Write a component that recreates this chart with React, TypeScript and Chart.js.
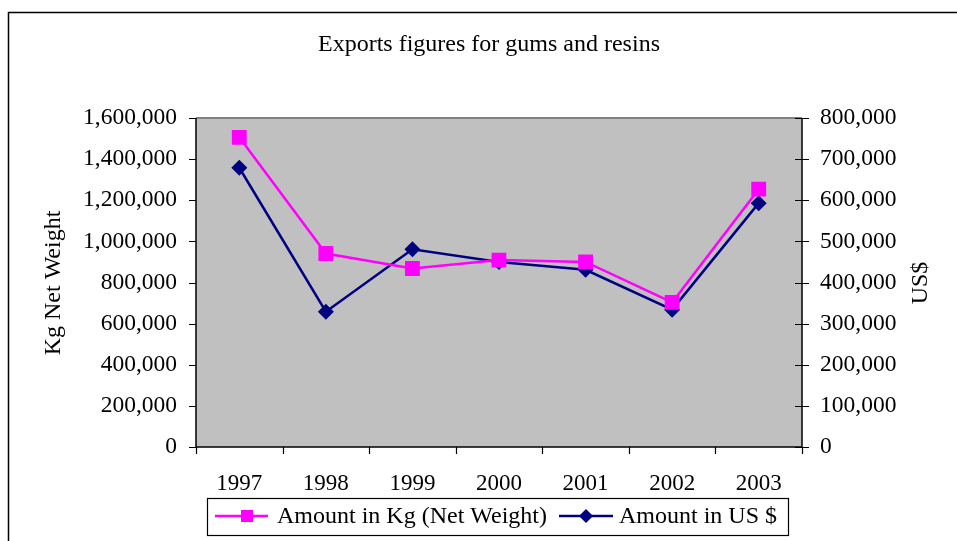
import React, { useEffect, useRef } from "react";
import { Chart, registerables } from "chart.js";

Chart.register(...registerables);

const years = ["1997", "1998", "1999", "2000", "2001", "2002", "2003"];
const kgValues = [1506000, 941000, 868000, 909000, 900000, 703000, 1254000];
const usdValues = [679000, 329000, 481000, 450000, 431000, 334000, 593000];
const leftMax = 1600000;
const leftStep = 200000;
const rightMax = 800000;
const rightStep = 100000;
const chartTitle = "Exports figures for gums and resins";
const leftAxisTitle = "Kg Net Weight";
const rightAxisTitle = "US$";
const seriesNames = ["Amount in Kg (Net Weight)", "Amount in US $"];
const kgColor = "#FF00FF";
const usdColor = "#000080";

const FONT = "'Liberation Serif', 'Times New Roman', serif";

const decorPlugin = {
  id: "decor",
  beforeDraw(chart: any) {
    const { ctx, chartArea, width, height } = chart;
    ctx.save();
    ctx.fillStyle = "#ffffff";
    ctx.fillRect(0, 0, width, height);
    ctx.fillStyle = "#C0C0C0";
    ctx.fillRect(chartArea.left, chartArea.top, chartArea.right - chartArea.left, chartArea.bottom - chartArea.top);
    ctx.restore();
  },
  afterDraw(chart: any) {
    const { ctx, chartArea, width, height } = chart;
    const { left, right, top, bottom } = chartArea;
    const yL = chart.scales.y;
    const yR = chart.scales.y1;
    const x = chart.scales.x;
    ctx.save();

    // plot area top border (gray)
    ctx.strokeStyle = "#808080";
    ctx.lineWidth = 2;
    ctx.beginPath();
    ctx.moveTo(left, top);
    ctx.lineTo(right, top);
    ctx.stroke();

    // axes lines
    ctx.strokeStyle = "#000000";
    ctx.lineWidth = 1.5;
    ctx.beginPath();
    ctx.moveTo(left, top);
    ctx.lineTo(left, bottom);
    ctx.moveTo(right, top);
    ctx.lineTo(right, bottom);
    ctx.moveTo(left, bottom);
    ctx.lineTo(right, bottom);
    ctx.stroke();

    // tick marks
    ctx.lineWidth = 1.2;
    ctx.beginPath();
    yL.ticks.forEach((t: any) => {
      const py = Math.round(yL.getPixelForValue(t.value)) + 0.5;
      ctx.moveTo(left - 7, py);
      ctx.lineTo(left, py);
    });
    yR.ticks.forEach((t: any) => {
      const py = Math.round(yR.getPixelForValue(t.value)) + 0.5;
      ctx.moveTo(right - 7, py);
      ctx.lineTo(right + 7, py);
    });
    const n = years.length;
    for (let i = 0; i <= n; i++) {
      const px = Math.round(x.getPixelForValue(i - 0.5)) + 0.5;
      ctx.moveTo(px, bottom);
      ctx.lineTo(px, bottom + 7);
    }
    ctx.stroke();

    // title
    ctx.fillStyle = "#000000";
    ctx.font = `24px ${FONT}`;
    ctx.textAlign = "center";
    ctx.textBaseline = "middle";
    ctx.fillText(chartTitle, 489, 45);

    // axis titles
    ctx.save();
    ctx.translate(54, 283);
    ctx.rotate(-Math.PI / 2);
    ctx.fillText(leftAxisTitle, 0, 0);
    ctx.restore();
    ctx.save();
    ctx.translate(921, 283);
    ctx.rotate(-Math.PI / 2);
    ctx.fillText(rightAxisTitle, 0, 0);
    ctx.restore();

    // outer frame
    ctx.strokeStyle = "#000000";
    ctx.lineWidth = 1.5;
    ctx.beginPath();
    ctx.moveTo(8.5, height + 2);
    ctx.lineTo(8.5, 12.5);
    ctx.lineTo(width + 2, 12.5);
    ctx.stroke();

    // legend
    const lx = 207.5, ly = 498.5, lw = 581, lh = 37;
    ctx.fillStyle = "#ffffff";
    ctx.fillRect(lx, ly, lw, lh);
    ctx.strokeStyle = "#000000";
    ctx.lineWidth = 1.2;
    ctx.strokeRect(lx, ly, lw, lh);
    const cy = 516;
    // item 1
    ctx.strokeStyle = kgColor;
    ctx.lineWidth = 2.5;
    ctx.beginPath();
    ctx.moveTo(215, cy);
    ctx.lineTo(268, cy);
    ctx.stroke();
    ctx.fillStyle = kgColor;
    ctx.fillRect(241, cy - 6, 12, 12);
    // item 2
    ctx.strokeStyle = usdColor;
    ctx.beginPath();
    ctx.moveTo(559, cy);
    ctx.lineTo(613, cy);
    ctx.stroke();
    ctx.fillStyle = usdColor;
    ctx.beginPath();
    ctx.moveTo(586, cy - 7);
    ctx.lineTo(593, cy);
    ctx.lineTo(586, cy + 7);
    ctx.lineTo(579, cy);
    ctx.closePath();
    ctx.fill();
    ctx.fillStyle = "#000000";
    ctx.font = `24px ${FONT}`;
    ctx.textAlign = "left";
    ctx.textBaseline = "middle";
    ctx.fillText(seriesNames[0], 277, cy + 1);
    ctx.fillText(seriesNames[1], 619, cy + 1);

    ctx.restore();
  },
};

export default function App() {
  const ref = useRef<HTMLCanvasElement | null>(null);
  useEffect(() => {
    if (!ref.current) return;
    const fmt = (v: any) => Number(v).toLocaleString("en-US");
    const chart = new Chart(ref.current, {
      type: "line",
      data: {
        labels: years,
        datasets: [
          {
            label: seriesNames[0],
            data: kgValues,
            yAxisID: "y",
            borderColor: kgColor,
            backgroundColor: kgColor,
            borderWidth: 2.5,
            pointStyle: "rect",
            pointRadius: 10.5,
            pointBorderWidth: 0,
            pointBackgroundColor: kgColor,
            tension: 0,
          },
          {
            label: seriesNames[1],
            data: usdValues,
            yAxisID: "y1",
            borderColor: usdColor,
            backgroundColor: usdColor,
            borderWidth: 2.5,
            pointStyle: "rectRot",
            pointRadius: 8,
            pointBorderWidth: 0,
            pointBackgroundColor: usdColor,
            tension: 0,
          },
        ],
      },
      options: {
        animation: false,
        responsive: false,
        devicePixelRatio: 1,
        layout: { padding: { top: 118, left: 0, right: 0, bottom: 0 } },
        plugins: {
          legend: { display: false },
          title: { display: false },
          tooltip: { enabled: false },
        },
        scales: {
          x: {
            type: "category",
            offset: true,
            grid: { display: false, drawTicks: false },
            border: { display: false },
            ticks: {
              color: "#000",
              font: { family: FONT, size: 23 },
              padding: 23,
              maxRotation: 0,
              autoSkip: false,
            },
            afterFit(scale: any) {
              scale.height = 94;
            },
          },
          y: {
            position: "left",
            min: 0,
            max: leftMax,
            grid: { display: false, drawTicks: false },
            border: { display: false },
            ticks: {
              stepSize: leftStep,
              color: "#000",
              font: { family: FONT, size: 23.5 },
              padding: 19,
              callback: fmt,
            },
            afterFit(scale: any) {
              scale.width = 196;
            },
          },
          y1: {
            position: "right",
            min: 0,
            max: rightMax,
            grid: { display: false, drawTicks: false },
            border: { display: false },
            ticks: {
              stepSize: rightStep,
              color: "#000",
              font: { family: FONT, size: 23.5 },
              padding: 18,
              callback: fmt,
            },
            afterFit(scale: any) {
              scale.width = 155;
            },
          },
        },
      } as any,
      plugins: [decorPlugin],
    });
    return () => chart.destroy();
  }, []);
  return (
    <div style={{ position: "absolute", left: 0, top: 0, width: 957, height: 541 }}>
      <canvas ref={ref} width={957} height={541} style={{ display: "block", width: 957, height: 541 }} />
    </div>
  );
}
